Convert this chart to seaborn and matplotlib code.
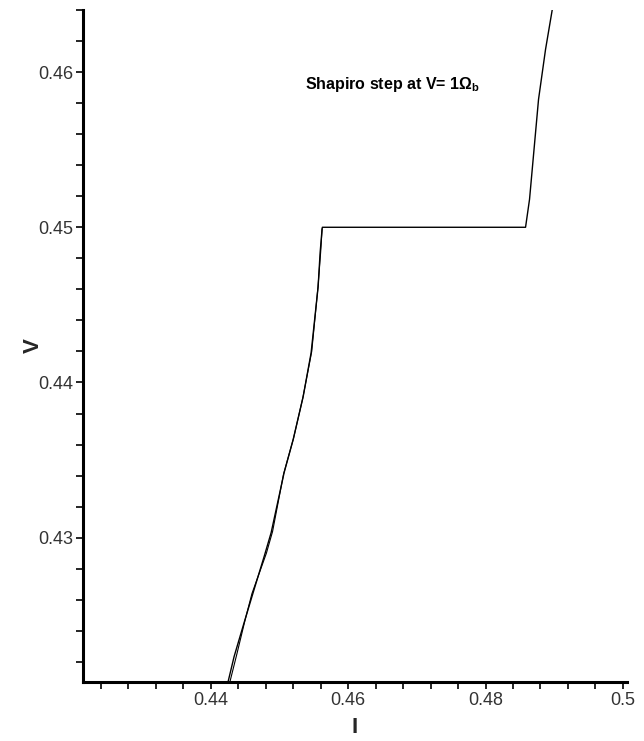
import pandas as pd
import matplotlib.pyplot as plt
import seaborn as sns
from matplotlib.ticker import MultipleLocator

# current sweep (I) and voltage (V)
I_sweep1 = [0.44253, 0.44340, 0.44486, 0.44617, 0.44777, 0.44879, 0.45068,
            0.45199, 0.45345, 0.45461, 0.45563, 0.45592, 0.45621, 0.45625,
            0.48583, 0.48641, 0.48772, 0.48874, 0.48990]
V_sweep1 = [0.42073, 0.42234, 0.42453, 0.42646, 0.42878, 0.43032, 0.43419,
            0.43631, 0.43908, 0.44191, 0.44616, 0.44835, 0.44990, 0.45000,
            0.45000, 0.45180, 0.45824, 0.46146, 0.46450]

# second sweep, only differs on the lower branch
I_sweep2 = [0.44280, 0.44380, 0.44500, 0.44600, 0.44810, 0.44900, 0.45060,
            0.45205, 0.45340, 0.45470, 0.45560, 0.45600, 0.45621]
V_sweep2 = [0.42073, 0.42250, 0.42470, 0.42640, 0.42900, 0.43040, 0.43410,
            0.43640, 0.43900, 0.44200, 0.44610, 0.44840, 0.44990]

df1 = pd.DataFrame({'I': I_sweep1, 'V': V_sweep1})
df2 = pd.DataFrame({'I': I_sweep2, 'V': V_sweep2})

sns.set_style('ticks')
plt.rcParams['font.family'] = ['Liberation Sans', 'DejaVu Sans']
plt.rcParams['mathtext.fontset'] = 'custom'
plt.rcParams['mathtext.rm'] = 'Liberation Sans:bold'
plt.rcParams['mathtext.it'] = 'Liberation Sans:bold'

fig = plt.figure(figsize=(6.44, 7.41), dpi=100)
ax = fig.add_axes([83 / 644, 59 / 741, 544 / 644, 672 / 741])

sns.lineplot(data=df1, x='I', y='V', sort=False, estimator=None, color='black', lw=1.0, ax=ax)
sns.lineplot(data=df2, x='I', y='V', sort=False, estimator=None, color='black', lw=0.8, ax=ax)

ax.set_xlim(0.4214, 0.5006)
ax.set_ylim(0.4207, 0.4640)

ax.xaxis.set_major_locator(MultipleLocator(0.02))
ax.xaxis.set_minor_locator(MultipleLocator(0.004))
ax.yaxis.set_major_locator(MultipleLocator(0.01))
ax.yaxis.set_minor_locator(MultipleLocator(0.002))
ax.set_xticks([0.44, 0.46, 0.48, 0.5])
ax.set_xticklabels(['0.44', '0.46', '0.48', '0.5'])
ax.set_yticks([0.43, 0.44, 0.45, 0.46])
ax.set_yticklabels(['0.43', '0.44', '0.45', '0.46'])

ax.tick_params(axis='both', which='both', direction='out', length=5, width=1.2,
               color='black', labelsize=13, labelcolor='#333333', pad=2)

for side in ['top', 'right']:
    ax.spines[side].set_visible(False)
for side in ['left', 'bottom']:
    ax.spines[side].set_linewidth(2.2)
    ax.spines[side].set_color('black')

ax.set_xlabel('I', fontsize=16, fontweight='bold', labelpad=6)
ax.set_ylabel('V', fontsize=16, fontweight='bold', labelpad=-4)

ax.text(0.408, 0.889, r'Shapiro step at V= 1$\Omega_\mathrm{b}$', transform=ax.transAxes,
        fontsize=11.5, fontweight='bold', color='black', ha='left', va='center')

fig.savefig('out.png', dpi=100)
